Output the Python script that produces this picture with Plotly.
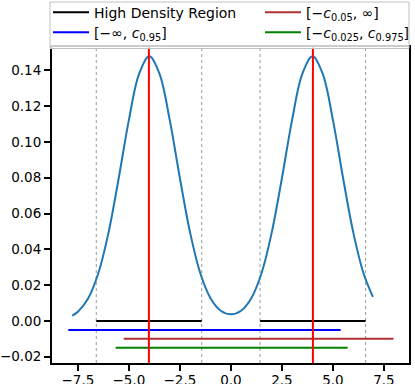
import plotly.graph_objects as go

# density curve
x_curve = [-7.78, -7.5, -7.0, -6.5, -6.0, -5.5, -5.0, -4.5, -4.0, -3.5, -3.0, -2.5,
           -2.0, -1.5, -1.0, -0.5, 0.0, 0.5, 1.0, 1.5, 2.0, 2.5, 3.0, 3.5, 4.0,
           4.5, 5.0, 5.5, 6.0, 6.5, 6.96]
y_curve = [0.0029, 0.0051, 0.0125, 0.0266, 0.0493, 0.0797, 0.1123, 0.1380, 0.1478,
           0.1380, 0.1123, 0.0797, 0.0493, 0.0266, 0.0127, 0.0057, 0.0037, 0.0057,
           0.0127, 0.0266, 0.0493, 0.0797, 0.1123, 0.1380, 0.1478, 0.1380, 0.1123,
           0.0797, 0.0493, 0.0266, 0.0134]

# intervals
hdr_bounds = [-6.6, -1.43, 1.43, 6.6]
blue_int = [-7.97, 5.38]
red_int = [-5.25, 7.97]
green_int = [-5.65, 5.72]
level_y = [0.0, -0.005, -0.010, -0.015]
mode_x = [-4.02, 4.02]

x_ticks = [-7.5, -5.0, -2.5, 0.0, 2.5, 5.0, 7.5]
y_ticks = [-0.02, 0.0, 0.02, 0.04, 0.06, 0.08, 0.10, 0.12, 0.14]

BLUE = "#1f77b4"
FONT = "DejaVu Sans"
W, H = 415, 384

fig = go.Figure()

fig.add_trace(go.Scatter(x=x_curve, y=y_curve, mode="lines", line=dict(color=BLUE, width=2, shape="spline"),
                         showlegend=False, hoverinfo="skip"))

# HDR (two pieces, one legend entry)
fig.add_trace(go.Scatter(x=[hdr_bounds[0], hdr_bounds[1], None, hdr_bounds[2], hdr_bounds[3]],
                         y=[level_y[0]] * 2 + [None] + [level_y[0]] * 2,
                         mode="lines", line=dict(color="black", width=2),
                         name="High Density Region", legend="legend"))
fig.add_trace(go.Scatter(x=blue_int, y=[level_y[1]] * 2, mode="lines",
                         line=dict(color="#0000ff", width=2),
                         name="[−∞, <i>c</i><sub>0.95</sub>]", legend="legend2"))
fig.add_trace(go.Scatter(x=red_int, y=[level_y[2]] * 2, mode="lines",
                         line=dict(color="#b03030", width=2),
                         name="[−<i>c</i><sub>0.05</sub>, ∞]", legend="legend3"))
fig.add_trace(go.Scatter(x=green_int, y=[level_y[3]] * 2, mode="lines",
                         line=dict(color="#008000", width=2),
                         name="[−<i>c</i><sub>0.025</sub>, <i>c</i><sub>0.975</sub>]", legend="legend4"))

for xb in hdr_bounds:
    fig.add_shape(type="line", x0=xb, x1=xb, y0=0, y1=1, xref="x", yref="paper",
                  line=dict(color="#999999", width=1, dash="dot"), layer="below")
for xm in mode_x:
    fig.add_shape(type="line", x0=xm, x1=xm, y0=0, y1=1, xref="x", yref="paper",
                  line=dict(color="#ff0000", width=2), layer="above")

# legend frame (sits over the top spine like matplotlib's)
fig.add_shape(type="rect", xref="paper", yref="paper",
              x0=(50 - 52) / 357, x1=(409 - 52) / 357,
              y0=(316 - 1.5) / 316, y1=(316 + 45) / 316,
              fillcolor="rgba(255,255,255,0.8)", line=dict(color="#c0c0c0", width=1), layer="above")

axis_common = dict(showgrid=False, zeroline=False, showline=True, linecolor="black", linewidth=2,
                   mirror=True, ticks="outside", ticklen=6, tickwidth=1.5, tickcolor="black",
                   tickfont=dict(family=FONT, size=13.5, color="black"))

leg_common = dict(orientation="v", xref="container", yref="container", xanchor="left", yanchor="middle",
                  bgcolor="rgba(0,0,0,0)", borderwidth=0, itemwidth=36,
                  font=dict(family=FONT, size=14, color="black"))

fig.update_layout(
    width=W, height=H,
    margin=dict(l=52, r=6, t=47, b=21, autoexpand=False),
    plot_bgcolor="white", paper_bgcolor="white",
    xaxis=dict(range=[-8.77, 8.73], tickvals=x_ticks, tickformat=".1f", ticklabelstandoff=-2, **axis_common),
    yaxis=dict(range=[-0.0235, 0.153], tickvals=y_ticks, tickformat=".2f", **axis_common),
    legend=dict(x=48 / W, y=1 - 12.7 / H, **leg_common),
    legend2=dict(x=48 / W, y=1 - 32.7 / H, **leg_common),
    legend3=dict(x=260 / W, y=1 - 12.7 / H, **leg_common),
    legend4=dict(x=260 / W, y=1 - 32.7 / H, **leg_common),
    showlegend=True,
)

fig.write_html("out.html", config={"displayModeBar": False},
               post_script="document.body.style.margin='0';")
